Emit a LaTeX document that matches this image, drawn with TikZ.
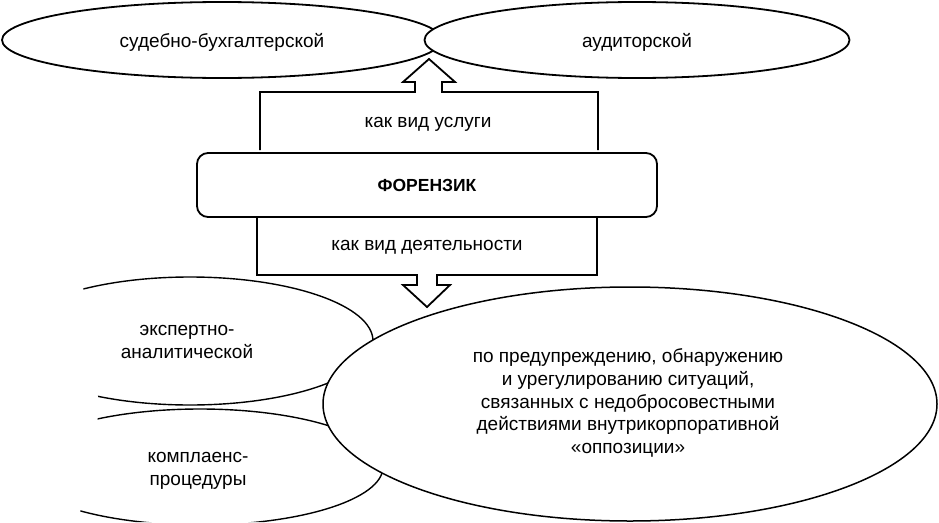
\documentclass[tikz,border=0pt]{standalone}
\usepackage{fontspec}
\setmainfont{Liberation Sans}
\usetikzlibrary{shapes.geometric}
\tikzset{
  oval/.style={ellipse,draw,fill=white,inner sep=0pt},
  strelka/.style={draw,line width=1.8pt,line join=miter},
  podpis/.style={font=\fontsize{19}{22.8}\selectfont,align=center}
}
\begin{document}
\begin{tikzpicture}[x=1pt,y=-1pt]
\useasboundingbox (0,0) rectangle (939,522);
% verkhnie ovaly
\node[oval,line width=1.8pt,minimum width=440,minimum height=76] (sudEl) at (222,40) {};
\node[oval,line width=1.8pt,minimum width=425,minimum height=76] (audEl) at (637,40) {};
\node[podpis] (sudT) at (222,42) {судебно-бухгалтерской};
\node[podpis] (audT) at (637,42) {аудиторской};
% strelka vverkh
\draw[strelka] (260,150) -- (260,92) -- (415,92) -- (415,82) -- (403,82) -- (429,59)
  -- (455,82) -- (442,82) -- (442,92) -- (598,92) -- (598,150);
\node[podpis] (uslT) at (428,124) {как вид услуги};
% strelka vniz
\draw[strelka] (257,217) -- (257,275) -- (417,275) -- (417,285) -- (403,285) -- (427,307)
  -- (450,285) -- (437,285) -- (437,275) -- (597,275) -- (597,217);
\node[podpis] (deyT) at (427,247) {как вид деятельности};
% tsentr
\node[draw,fill=white,line width=1.8pt,rounded corners=11pt,minimum width=460,minimum height=64,
  podpis,font=\fontsize{17.5}{23}\selectfont\bfseries] (forBox) at (427,185) {ФОРЕНЗИК};
% nizhnie ovaly
\begin{scope}
\clip (83,262) -- (83,286) -- (98,396) -- (98,417) -- (80,513) -- (76,522) -- (939,522) -- (939,262) -- cycle;
\node[oval,line width=1.4pt,minimum width=366,minimum height=128] (ekspEl) at (190,341) {};
\node[oval,line width=1.4pt,minimum width=366,minimum height=116] (komplEl) at (200,467) {};
\end{scope}
\node[oval,line width=1.5pt,minimum width=614,minimum height=234] (predEl) at (630,404) {};
\node[podpis] (ekspT) at (187,342) {экспертно-\\аналитической};
\node[podpis] (komplT) at (198,471) {комплаенс-\\процедуры};
\node[podpis] (predT) at (628,403) {по предупреждению, обнаружению\\и урегулированию ситуаций,\\связанных с недобросовестными\\действиями внутрикорпоративной\\«оппозиции»};
\end{tikzpicture}
\end{document}
